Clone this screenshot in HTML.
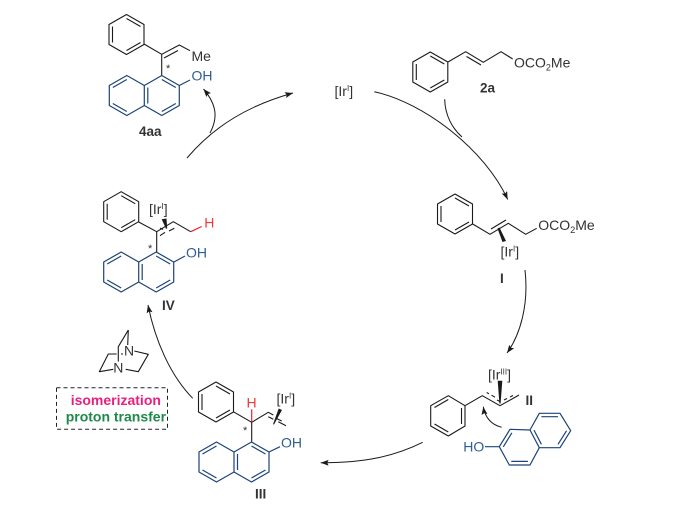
<!DOCTYPE html>
<html>
<head>
<meta charset="utf-8">
<style>
html,body{margin:0;padding:0;background:#fff;width:697px;height:514px;overflow:hidden}
svg{display:block}
text{font-family:"Liberation Sans",sans-serif;font-size:14px;fill:#333}
.b{font-weight:bold;font-size:13.5px}
.bl{fill:#2f5d94}
.k{fill:none;stroke:#1a1a1a;stroke-width:1.1;stroke-linejoin:round}
.n{fill:none;stroke:#1c4478;stroke-width:1.2;stroke-linejoin:round}
.a{fill:none;stroke:#1a1a1a;stroke-width:1}
.r{fill:none;stroke:#e8232a;stroke-width:1.2}
</style>
</head>
<body>
<svg width="697" height="514" viewBox="0 0 697 514" xmlns="http://www.w3.org/2000/svg">
<defs>
<marker id="h" markerUnits="userSpaceOnUse" markerWidth="10" markerHeight="8" refX="8" refY="3" orient="auto">
<path d="M0,0 L8,3 L0,6 L1.5,3 Z" fill="#1a1a1a"/>
</marker>
<g id="ph" class="k">
<path d="M0,-20 L17.5,-10 L17.5,10 L0,20 L-17.5,10 L-17.5,-10 Z M0,-16 L14,-8 M14,8 L0,16 M-14,8 L-14,-8"/>
</g>
<g id="na" class="n">
<path d="M17.5,-20 L35,-10 L35,10 L17.5,20 L0,10 L0,-10 Z M0,-10 L-17.5,-20 L-35,-10 L-35,10 L-17.5,20 L0,10 M17.5,-16 L31.5,-8 M31.5,8 L17.5,16 M3.5,8 L3.5,-8 M-17.5,-16 L-31.5,-8 M-31.5,8 L-17.5,16"/>
</g>
</defs>

<!-- 4aa -->
<use href="#ph" x="126.5" y="34.5"/>
<path class="k" d="M144,44 L161.7,54.3 L179.3,45 L190,50.7 M161.7,75.3 L161.7,54.3 M164,58 L178,50.5"/>
<use href="#na" x="144.3" y="95.5"/>
<path class="n" d="M179.3,85.5 L190,80"/>
<text x="191.5" y="61">Me</text>
<text x="191.5" y="80.7" class="bl">OH</text>
<text x="166" y="72" style="font-size:11px">*</text>
<text x="139" y="136" class="b">4aa</text>

<!-- top arrows -->
<path class="a" d="M187,158 C215,125 250,105 293,93" marker-end="url(#h)"/>
<path class="a" d="M210,133 C218,118 217,105 203.5,89" marker-end="url(#h)"/>
<text x="334.5" y="96">[Ir<tspan dy="-5" style="font-size:8px">I</tspan><tspan dy="5">]</tspan></text>

<!-- 2a -->
<use href="#ph" x="430.3" y="72"/>
<path class="k" d="M448,62 L465.7,51.7 L483.3,62.3 L501,51.7 L512.7,59 M466.5,56.5 L481,65"/>
<text x="514" y="67.7">OCO<tspan dy="3" style="font-size:9px">2</tspan><tspan dy="-3">Me</tspan></text>
<text x="480" y="92.3" class="b">2a</text>
<path class="a" d="M374.3,91.7 C425,103 485,150 507.7,199.5" marker-end="url(#h)"/>
<path class="a" d="M444.7,99.3 C445,115 452,128 462,137"/>

<!-- I -->
<use href="#ph" x="455" y="214"/>
<path class="k" d="M472.7,224 L490,234.3 L508.3,223.3 L525.7,234.3 L536.7,228.3 M491,229 L506,220"/>
<polygon points="497.5,228.5 499.5,227.5 506,241 502.5,242" fill="#1a1a1a"/>
<text x="538.3" y="230">OCO<tspan dy="3" style="font-size:9px">2</tspan><tspan dy="-3">Me</tspan></text>
<text x="500.5" y="256.7">[Ir<tspan dy="-5" style="font-size:8px">I</tspan><tspan dy="5">]</tspan></text>
<text x="500" y="283" class="b">I</text>
<path class="a" d="M525,270 C529,305 520,335 507,353" marker-end="url(#h)"/>

<!-- II -->
<g class="k">
<path d="M448.3,395.7 L465,405.7 L465,426 L448.3,436 L430.7,426 L430.7,405.7 Z M448.3,399.5 L434.5,407.5 M461.5,408 L461.5,424 M448.3,432 L434.5,424"/>
<path d="M465,405.7 L482.3,395.7 L500,405.7 L519,395"/>
<path d="M486.7,392.5 L489,393.8 M491.5,395.2 L495,397.2 M497,400 L500,401.5 M504,400 L507,398.5 M510,397 L513,395.5"/>
</g>
<polygon points="497.7,380.7 502.3,380.7 500.6,403.5 499.4,403.5" fill="#1a1a1a"/>
<text x="488" y="379.3">[Ir<tspan dy="-5" style="font-size:8px">III</tspan><tspan dy="5">]</tspan></text>
<text x="525.5" y="405" class="b">II</text>
<path class="a" d="M501.7,427.3 C492,425 485,418 483.3,406.7" marker-end="url(#h)"/>
<path class="n" d="M510,429.3 L530,430 L539.3,447.7 L530,465 L509.3,465 L499.3,446.7 Z M530,430 L539.3,413.3 L560,413.3 L570.7,430.7 L560,447.7 L539.3,447.7 M511.9,432.8 L503.3,446.8 M527.9,461.4 L511.3,461.4 M534,430.1 L541.4,444.3 M541.4,416.7 L558,416.7 M566.6,430.7 L558,444.3 M485,446.7 L499.3,446.7"/>
<text x="463.3" y="451.7" class="bl">HO</text>
<path class="a" d="M422.7,442.3 C395,456 365,463 320.7,462.7" marker-end="url(#h)"/>

<!-- III -->
<use href="#ph" x="216" y="402"/>
<path class="k" d="M233.3,411.7 L251.7,422.3 L268.3,412.3 L273.3,415 M251.7,422.3 L251.7,441.7"/>
<path class="k" d="M268.3,416.7 L273.3,419.3 M276,418.3 L281.7,421 M278.3,421.7 L286,425.7"/>
<polygon points="273,424.3 274,424.5 282,410 278.7,408.5" fill="#1a1a1a"/>
<path class="r" d="M251.7,409.3 L251.7,422"/>
<use href="#na" x="234" y="462"/>
<path class="n" d="M269,452 L280,446.7"/>
<text x="246.5" y="407.3" style="fill:#ee3b3b">H</text>
<text x="276.5" y="403.3">[Ir<tspan dy="-5" style="font-size:8px">I</tspan><tspan dy="5">]</tspan></text>
<text x="281" y="447.7" class="bl">OH</text>
<text x="243" y="434" style="font-size:11px">*</text>
<text x="255" y="498.3" class="b">III</text>

<!-- IV -->
<use href="#ph" x="121.2" y="211.7"/>
<path class="k" d="M138.7,222 L156.7,231.7 L173.3,221.7 L190.7,231.7 M156.7,231.7 L156.7,252 M160,235.7 L165,232.3 M169,231 L174.3,228.3 M160,228 L163,229.5"/>
<polygon points="161.7,219.3 166.5,218.5 167.2,228.5 166,228.8" fill="#1a1a1a"/>
<path class="r" d="M190.7,231.7 L201.7,226.5"/>
<use href="#na" x="138.7" y="272"/>
<path class="n" d="M174,262 L185,256"/>
<text x="204.3" y="227.3" style="fill:#ee3b3b">H</text>
<text x="149" y="214">[Ir<tspan dy="-5" style="font-size:8px">I</tspan><tspan dy="5">]</tspan></text>
<text x="186" y="257.3" class="bl">OH</text>
<text x="148" y="252" style="font-size:11px">*</text>
<text x="162" y="310" class="b">IV</text>
<path class="a" d="M192.7,398.3 C170,375 155,340 148,305" marker-end="url(#h)"/>

<!-- DABCO -->
<path class="k" d="M128.3,330 L118.3,346.7 L118.3,361.5 M128.3,330 L127.7,345 M134.3,351 L148.3,354.3 L138.3,371.7 L125.7,369.3 M113.3,369.3 L99.3,371.7 L108.3,354 L116.7,354 M121,354 L123,354"/>
<text x="124" y="355.7">N</text>
<text x="113.2" y="372.3">N</text>

<!-- box -->
<rect x="56.5" y="387.7" width="111" height="41.6" fill="none" stroke="#222" stroke-width="1" stroke-dasharray="4 3"/>
<text x="70.7" y="405" style="font-weight:bold;fill:#e6207e">isomerization</text>
<text x="65.7" y="421.7" style="font-weight:bold;fill:#1e8a4a">proton transfer</text>
</svg>
</body>
</html>
